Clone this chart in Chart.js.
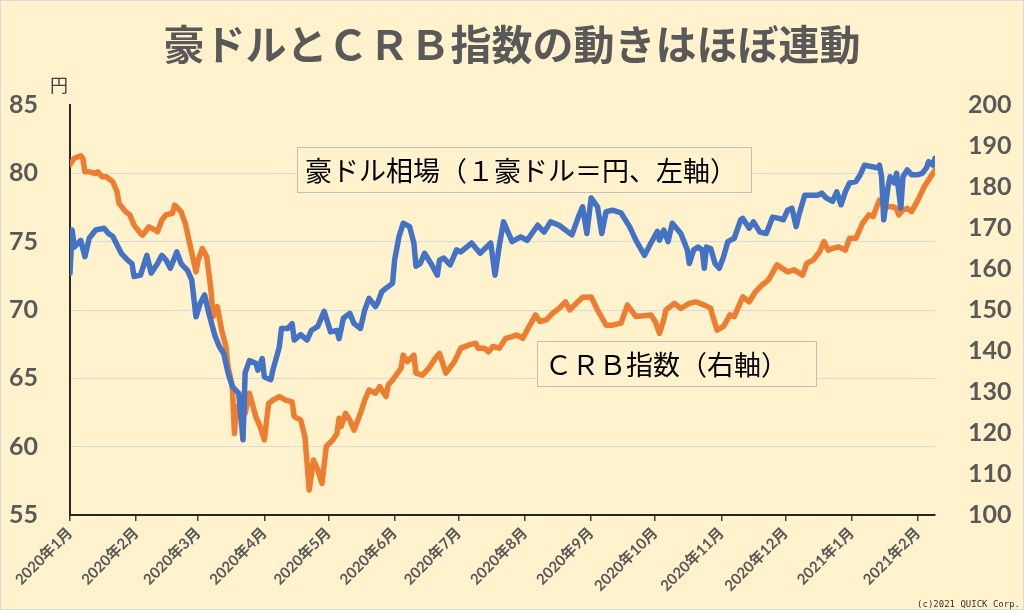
<!DOCTYPE html>
<html>
<head>
<meta charset="utf-8">
<script src="https://cdn.jsdelivr.net/npm/chart.js@4.4.1/dist/chart.umd.min.js"></script>
<style>
  html, body { margin: 0; padding: 0; background: #FFF2CC; }
  #wrap { width: 1024px; height: 610px; position: relative; }
  canvas { display: block; }
</style>
</head>
<body>
<div id="wrap"><canvas id="c" width="1024" height="610"></canvas></div>
<script>
// ---- Data (day offsets from 2020-01-01) ----
const chartTitle = '豪ドルとＣＲＢ指数の動きはほぼ連動';
const audLabel = '豪ドル相場（１豪ドル＝円、左軸）';
const crbLabel = 'ＣＲＢ指数（右軸）';

const monthTickDays = [0, 31, 60, 91, 121, 152, 182, 213, 244, 274, 305, 335, 366, 397];
const monthTickLabels = ['2020年1月','2020年2月','2020年3月','2020年4月','2020年5月','2020年6月','2020年7月','2020年8月','2020年9月','2020年10月','2020年11月','2020年12月','2021年1月','2021年2月'];

const audDays = [0,1,2,5,7,9,12,16,18,20,24,27,29,30,33,36,38,41,43,45,47,50,52,55,57,59,61,63,65,68,70,72,74,76,79,81,82,84,87,88,90,91,94,95,98,99,102,104,105,108,111,113,116,119,122,125,126,128,131,133,136,138,140,143,144,146,148,151,152,154,156,159,161,162,164,166,169,172,173,175,178,181,183,188,192,197,199,201,203,207,211,214,219,222,225,229,235,238,240,242,244,247,249,251,254,258,262,265,269,272,275,276,278,280,282,286,289,290,292,294,296,297,298,300,302,304,306,308,311,314,315,318,320,323,326,329,332,334,336,338,340,341,344,347,350,352,354,357,359,361,363,365,368,370,372,375,378,379,380,381,383,384,386,387,389,390,392,394,397,399,401,402,404,405];
const audValues = [72.7,75.85,74.6,75.1,73.9,75.25,75.85,75.98,75.6,75.4,74.15,73.65,73.4,72.45,72.55,74.0,72.7,73.4,74.0,73.65,73.05,74.25,73.4,72.9,72.2,69.5,70.5,71.1,69.75,68.05,67.3,66.8,65.4,64.4,63.9,60.5,65.4,66.3,66.1,65.6,66.45,65.1,64.9,65.6,67.3,68.65,68.65,69.0,67.8,68.2,67.8,68.5,68.8,69.9,68.4,68.5,67.9,69.4,69.75,69.0,68.65,70.0,70.85,70.25,70.5,71.35,71.6,71.95,73.65,75.35,76.35,76.1,74.9,73.2,73.4,74.15,73.4,72.55,73.65,73.8,73.3,74.4,74.25,74.9,74.15,74.9,72.55,74.7,76.45,75.0,75.35,75.1,76.2,75.7,76.45,76.2,75.5,76.8,77.55,75.6,78.2,77.55,75.6,77.2,77.3,77.1,76.1,75.1,74.0,74.9,75.75,75.1,75.85,75.0,76.35,75.6,74.4,73.4,74.4,74.6,74.4,73.05,74.6,74.5,73.4,73.05,73.9,75.0,75.25,76.6,76.7,75.98,76.45,75.7,75.6,76.8,76.7,76.6,77.3,77.45,76.1,76.8,78.4,78.4,78.4,78.55,78.2,77.95,78.65,77.7,78.65,79.3,79.4,79.9,80.6,80.5,80.4,80.6,79.75,76.6,79.0,79.75,79.3,80.0,77.45,79.75,80.25,79.9,79.9,80.0,80.4,80.85,80.6,81.1];

const crbDays = [0,2,5,6,7,9,12,13,15,17,20,22,23,26,28,30,33,34,37,39,41,43,45,48,49,52,54,56,59,60,62,64,66,67,69,71,73,74,76,77,78,80,82,84,87,89,91,93,95,98,101,104,105,108,110,112,114,116,118,120,123,125,126,127,129,131,133,136,138,140,143,145,148,149,151,155,156,158,161,162,165,168,171,173,176,180,183,187,190,191,194,196,198,201,204,207,209,212,215,218,220,223,226,229,232,234,237,240,244,247,251,254,258,261,265,272,274,276,278,279,283,286,290,293,297,300,301,303,306,309,311,315,318,321,324,327,331,336,339,343,345,348,351,353,355,357,360,363,365,368,371,374,376,379,382,385,387,388,390,392,394,397,400,403,405];
const crbValues = [185.5,187.0,187.6,187.0,183.7,183.7,183.3,183.7,182.5,182.5,181.3,178.9,176.0,174.0,173.2,170.7,168.7,168.3,170.3,169.7,169.1,171.95,173.2,173.6,175.6,174.0,171.1,166.3,159.3,162.2,165.0,163.0,154.9,148.4,150.8,145.1,141.1,136.2,131.3,119.9,126.4,124.0,124.8,129.7,124.0,121.6,118.3,127.2,128.0,128.9,128.0,127.6,124.0,123.2,119.1,106.1,113.4,111.0,107.7,116.7,118.3,119.9,123.6,121.6,124.8,123.2,120.7,124.8,128.0,130.5,129.7,131.3,128.9,131.7,132.9,135.8,139.0,137.4,139.0,134.6,134.1,135.8,138.2,139.4,134.6,137.4,140.7,141.5,141.9,140.7,140.7,139.8,141.1,140.7,143.1,143.5,143.9,143.1,146.0,148.8,147.2,147.6,149.2,150.4,152.0,150.0,151.6,153.1,153.2,150.0,146.3,146.3,146.8,151.2,148.4,148.8,147.2,144.3,147.6,150.0,151.6,150.4,151.6,152.0,151.2,150.4,148.4,145.1,146.0,148.8,148.4,153.2,152.0,154.5,156.1,157.3,161.0,159.3,159.8,158.5,161.4,162.2,164.2,166.7,164.6,165.0,165.4,164.6,167.5,167.5,171.1,173.2,172.8,176.8,175.2,175.2,174.8,173.2,174.4,174.8,174.0,176.8,180.1,182.5,184.1];

const leftMin = 55, leftMax = 85, leftStep = 5;
const rightMin = 100, rightMax = 200, rightStep = 10;

// ---- Styles ----
const BG = '#FFF2CC';
const AXIS_TEXT = '#595959';

const bgPlugin = {
  id: 'bg',
  beforeDraw(chart) {
    const c = chart.ctx;
    c.save();
    c.fillStyle = BG;
    c.fillRect(0, 0, chart.width, chart.height);
    c.restore();
  },
  afterDraw(chart) {
    const c = chart.ctx;
    c.save();
    // outer border
    c.strokeStyle = '#D9D9D9';
    c.lineWidth = 1;
    c.strokeRect(0.5, 0.5, chart.width - 1, chart.height - 1);
    // title
    c.fillStyle = AXIS_TEXT;
    c.font = 'bold 41px "Noto Sans CJK JP"';
    c.textAlign = 'center';
    c.textBaseline = 'middle';
    c.fillText(chartTitle, 512, 44);
    // unit
    c.fillStyle = '#404040';
    c.font = '18px "Noto Sans CJK JP"';
    c.textAlign = 'left';
    c.fillText('円', 50, 85);
    // annotation boxes
    function box(x, y, w, h, text) {
      c.fillStyle = BG;
      c.fillRect(x, y, w, h);
      c.strokeStyle = '#BFBFBF';
      c.lineWidth = 1;
      c.strokeRect(x + 0.5, y + 0.5, w, h);
      c.fillStyle = '#000000';
      c.font = '27px "Noto Sans CJK JP"';
      c.textAlign = 'left';
      c.textBaseline = 'middle';
      c.fillText(text, x + 8, y + h / 2 + 1);
    }
    box(297, 147, 454, 45, audLabel);
    box(537, 341, 279, 45, crbLabel);
    // copyright
    c.fillStyle = '#333333';
    c.font = '9px "DejaVu Sans Mono"';
    c.textAlign = 'right';
    c.textBaseline = 'alphabetic';
    c.fillText('(c)2021 QUICK Corp.', 1020, 607);
    c.restore();
  }
};

const ctx = document.getElementById('c').getContext('2d');
new Chart(ctx, {
  type: 'line',
  data: {
    datasets: [
      {
        label: audLabel,
        data: audDays.map((d, i) => ({ x: d, y: audValues[i] })),
        yAxisID: 'yL',
        borderColor: '#4472C4',
        borderWidth: 5.5,
        pointRadius: 0,
        tension: 0,
        borderJoinStyle: 'round',
        borderCapStyle: 'round',
        fill: false
      },
      {
        label: crbLabel,
        data: crbDays.map((d, i) => ({ x: d, y: crbValues[i] })),
        yAxisID: 'yR',
        borderColor: '#ED7D31',
        borderWidth: 5.5,
        pointRadius: 0,
        tension: 0,
        borderJoinStyle: 'round',
        borderCapStyle: 'round',
        fill: false
      }
    ]
  },
  options: {
    responsive: false,
    animation: false,
    layout: { padding: { top: 105, left: 0, right: 0, bottom: 0 } },
    plugins: {
      legend: { display: false },
      tooltip: { enabled: false },
      title: { display: false }
    },
    scales: {
      x: {
        type: 'linear',
        min: 0,
        max: 405,
        afterBuildTicks(scale) {
          scale.ticks = monthTickDays.map(v => ({ value: v }));
        },
        ticks: {
          autoSkip: false,
          minRotation: 45,
          maxRotation: 45,
          padding: 3,
          color: AXIS_TEXT,
          font: { family: 'Lato, "Noto Sans CJK JP"', size: 15, weight: 'bold' },
          callback(value) {
            const i = monthTickDays.indexOf(value);
            return i >= 0 ? monthTickLabels[i] : '';
          }
        },
        grid: { drawOnChartArea: false, drawTicks: true, tickLength: 6, color: '#404040', lineWidth: 1.5 },
        border: { display: true, color: '#262626', width: 2 },
        afterFit(scale) { scale.height = 95; }
      },
      yL: {
        position: 'left',
        min: leftMin,
        max: leftMax,
        ticks: {
          stepSize: leftStep,
          padding: 32,
          color: AXIS_TEXT,
          font: { family: 'Lato', size: 25, weight: 'bold' }
        },
        grid: {
          drawTicks: false,
          color: (c) => (c.tick && c.tick.value === leftMax) ? 'rgba(0,0,0,0)' : '#D9D9D9',
          lineWidth: 1
        },
        border: { display: true, color: '#262626', width: 2 },
        afterFit(scale) { scale.width = 70; }
      },
      yR: {
        position: 'right',
        min: rightMin,
        max: rightMax,
        ticks: {
          stepSize: rightStep,
          padding: 33,
          color: AXIS_TEXT,
          font: { family: 'Lato', size: 25, weight: 'bold' }
        },
        grid: { display: false, drawTicks: false },
        border: { display: false },
        afterFit(scale) { scale.width = 89; }
      }
    }
  },
  plugins: [bgPlugin]
});
</script>
</body>
</html>
